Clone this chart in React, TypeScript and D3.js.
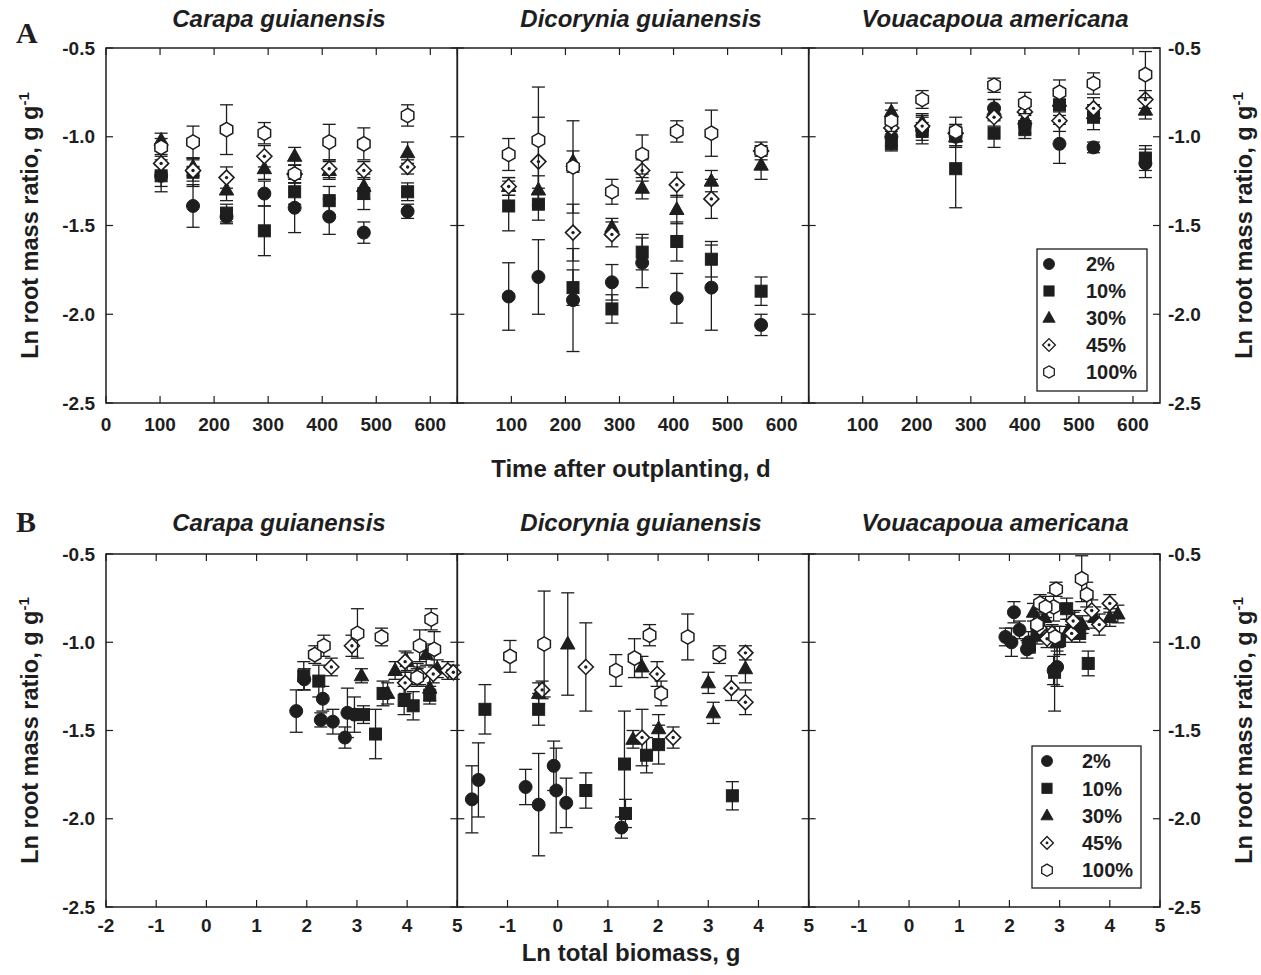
import React from 'react';
import * as d3 from 'd3';

// ---------- data ----------
const species = ['Carapa guianensis', 'Dicorynia guianensis', 'Vouacapoua americana'];
const levels = ['2%', '10%', '30%', '45%', '100%'];
const yTicks = [-0.5, -1.0, -1.5, -2.0, -2.5];
const timeTicks = [0, 100, 200, 300, 400, 500, 600];
const biomassTicks = [-2, -1, 0, 1, 2, 3, 4, 5];

// Panel A: time (d) of each harvest per species
const timeCarapa = [102, 161, 223, 293, 349, 413, 477, 558];
const timeDicorynia = [95, 150, 214, 286, 342, 406, 470, 562];
const timeVouacapoua = [153, 210, 272, 343, 400, 464, 527, 623];

// Panel A: [ln root mass ratio, error] per light level
const carapaA2 = [[-1.22, 0.06], [-1.39, 0.12], [-1.45, 0.04], [-1.32, 0.07], [-1.40, 0.14], [-1.45, 0.10], [-1.54, 0.06], [-1.42, 0.04]];
const carapaA10 = [[-1.22, 0.09], [-1.20, 0.08], [-1.43, 0.05], [-1.53, 0.14], [-1.31, 0.07], [-1.36, 0.08], [-1.32, 0.09], [-1.31, 0.05]];
const carapaA30 = [[-1.02, 0.04], [-1.17, 0.05], [-1.30, 0.06], [-1.18, 0.06], [-1.11, 0.05], [-1.19, 0.05], [-1.28, 0.07], [-1.09, 0.06]];
const carapaA45 = [[-1.15, 0.05], [-1.19, 0.06], [-1.23, 0.06], [-1.11, 0.06], [-1.21, 0.05], [-1.18, 0.05], [-1.19, 0.05], [-1.17, 0.04]];
const carapaA100 = [[-1.06, 0.05], [-1.03, 0.09], [-0.96, 0.14], [-0.98, 0.06], [-1.21, 0.05], [-1.03, 0.10], [-1.04, 0.09], [-0.88, 0.06]];

const dicoA2 = [[-1.90, 0.19], [-1.79, 0.21], [-1.92, 0.29], [-1.82, 0.10], [-1.71, 0.14], [-1.91, 0.14], [-1.85, 0.24], [-2.06, 0.06]];
const dicoA10 = [[-1.39, 0.14], [-1.38, 0.09], [-1.85, 0.10], [-1.97, 0.08], [-1.65, 0.10], [-1.59, 0.11], [-1.69, 0.10], [-1.87, 0.08]];
const dicoA30 = [[-1.28, 0.05], [-1.30, 0.08], [-1.14, 0.06], [-1.51, 0.05], [-1.29, 0.06], [-1.41, 0.08], [-1.25, 0.06], [-1.16, 0.08]];
const dicoA45 = [[-1.28, 0.05], [-1.14, 0.25], [-1.54, 0.16], [-1.55, 0.07], [-1.19, 0.06], [-1.27, 0.07], [-1.35, 0.11], [-1.08, 0.03]];
const dicoA100 = [[-1.10, 0.09], [-1.02, 0.30], [-1.17, 0.26], [-1.31, 0.07], [-1.10, 0.11], [-0.97, 0.06], [-0.98, 0.13], [-1.08, 0.05]];

const vouaA2 = [[-1.00, 0.05], [-0.96, 0.08], [-1.00, 0.06], [-0.84, 0.05], [-0.93, 0.05], [-1.04, 0.11], [-1.06, 0.03], [-1.15, 0.08]];
const vouaA10 = [[-1.04, 0.04], [-0.97, 0.05], [-1.18, 0.22], [-0.98, 0.08], [-0.96, 0.05], [-0.82, 0.06], [-0.89, 0.07], [-1.12, 0.07]];
const vouaA30 = [[-0.86, 0.05], [-0.92, 0.05], [-1.00, 0.05], [-0.85, 0.06], [-0.90, 0.05], [-0.80, 0.06], [-0.87, 0.05], [-0.85, 0.05]];
const vouaA45 = [[-0.95, 0.05], [-0.94, 0.05], [-0.98, 0.05], [-0.89, 0.05], [-0.86, 0.05], [-0.91, 0.06], [-0.84, 0.06], [-0.79, 0.05]];
const vouaA100 = [[-0.91, 0.06], [-0.79, 0.05], [-0.97, 0.08], [-0.71, 0.04], [-0.81, 0.06], [-0.75, 0.07], [-0.70, 0.06], [-0.65, 0.13]];

// Panel B: [ln total biomass, ln root mass ratio, error]
const carapaB2 = [[1.79, -1.39, 0.12], [2.28, -1.44, 0.04], [2.32, -1.32, 0.07], [2.52, -1.45, 0.07], [2.76, -1.54, 0.06], [2.81, -1.40, 0.14], [2.95, -1.41, 0.10], [1.95, -1.21, 0.06]];
const carapaB10 = [[1.94, -1.19, 0.08], [2.24, -1.22, 0.09], [3.13, -1.41, 0.05], [3.37, -1.52, 0.14], [3.52, -1.29, 0.07], [3.94, -1.33, 0.08], [4.12, -1.36, 0.08], [4.45, -1.30, 0.05]];
const carapaB30 = [[3.09, -1.19, 0.04], [3.61, -1.29, 0.06], [3.76, -1.16, 0.05], [4.00, -1.11, 0.05], [4.20, -1.18, 0.06], [4.38, -1.07, 0.06], [4.45, -1.26, 0.07], [4.60, -1.15, 0.05]];
const carapaB45 = [[2.49, -1.14, 0.05], [2.90, -1.02, 0.06], [3.96, -1.11, 0.06], [3.96, -1.23, 0.06], [4.25, -1.19, 0.05], [4.52, -1.18, 0.05], [4.81, -1.16, 0.05], [4.92, -1.17, 0.04]];
const carapaB100 = [[2.16, -1.07, 0.05], [2.34, -1.02, 0.06], [3.01, -0.95, 0.14], [3.49, -0.97, 0.05], [4.20, -1.20, 0.05], [4.25, -1.02, 0.09], [4.48, -0.87, 0.06], [4.54, -1.04, 0.10]];

const dicoB2 = [[-1.71, -1.89, 0.19], [-1.58, -1.78, 0.21], [-0.64, -1.82, 0.10], [-0.38, -1.92, 0.29], [-0.08, -1.70, 0.14], [-0.03, -1.84, 0.24], [0.17, -1.91, 0.14], [1.27, -2.05, 0.06]];
const dicoB10 = [[-1.45, -1.38, 0.14], [-0.38, -1.38, 0.09], [0.56, -1.84, 0.10], [1.33, -1.69, 0.30], [1.35, -1.97, 0.08], [1.77, -1.64, 0.10], [2.01, -1.58, 0.11], [3.48, -1.87, 0.08]];
const dicoB30 = [[-0.38, -1.29, 0.06], [0.20, -1.01, 0.29], [1.50, -1.55, 0.05], [1.68, -1.14, 0.06], [2.01, -1.49, 0.08], [3.00, -1.23, 0.06], [3.10, -1.40, 0.06], [3.74, -1.15, 0.08]];
const dicoB45 = [[-0.31, -1.27, 0.05], [0.56, -1.14, 0.25], [1.68, -1.54, 0.16], [1.98, -1.18, 0.07], [2.30, -1.54, 0.06], [3.46, -1.26, 0.07], [3.74, -1.06, 0.04], [3.74, -1.34, 0.07]];
const dicoB100 = [[-0.95, -1.08, 0.09], [-0.27, -1.01, 0.30], [1.16, -1.16, 0.09], [1.53, -1.09, 0.11], [1.83, -0.96, 0.06], [2.06, -1.29, 0.07], [2.59, -0.97, 0.13], [3.22, -1.07, 0.05]];

const vouaB2 = [[1.92, -0.97, 0.05], [2.09, -0.83, 0.06], [2.04, -1.00, 0.08], [2.20, -0.93, 0.05], [2.35, -1.04, 0.05], [2.38, -1.00, 0.06], [2.88, -1.16, 0.08], [2.95, -1.14, 0.11]];
const vouaB10 = [[2.40, -1.02, 0.04], [2.55, -0.96, 0.05], [2.90, -1.17, 0.22], [3.00, -0.99, 0.08], [3.14, -0.81, 0.06], [3.30, -0.89, 0.07], [3.40, -0.95, 0.05], [3.57, -1.12, 0.07]];
const vouaB30 = [[2.48, -0.83, 0.05], [2.70, -0.86, 0.05], [2.95, -1.00, 0.05], [3.20, -0.92, 0.05], [3.45, -0.90, 0.05], [3.70, -0.86, 0.06], [4.00, -0.86, 0.05], [4.16, -0.84, 0.05]];
const vouaB45 = [[2.60, -0.92, 0.05], [2.85, -0.95, 0.05], [3.24, -0.95, 0.05], [3.27, -0.88, 0.05], [3.64, -0.82, 0.06], [3.79, -0.90, 0.06], [4.00, -0.78, 0.05], [2.75, -0.98, 0.05]];
const vouaB100 = [[2.55, -0.90, 0.06], [2.61, -0.78, 0.05], [2.88, -0.80, 0.08], [2.91, -0.97, 0.06], [2.93, -0.70, 0.04], [3.44, -0.64, 0.13], [3.54, -0.73, 0.07], [2.72, -0.80, 0.06]];

// ---------- build tables ----------
type Pt = { x: number; y: number; e: number };
const fromA = (t: number[], a: number[][]): Pt[] => a.map((d, i) => ({ x: t[i], y: d[0], e: d[1] }));
const fromB = (a: number[][]): Pt[] => a.map((d) => ({ x: d[0], y: d[1], e: d[2] }));

const panelAData: Pt[][][] = [
  [carapaA2, carapaA10, carapaA30, carapaA45, carapaA100].map((s) => fromA(timeCarapa, s)),
  [dicoA2, dicoA10, dicoA30, dicoA45, dicoA100].map((s) => fromA(timeDicorynia, s)),
  [vouaA2, vouaA10, vouaA30, vouaA45, vouaA100].map((s) => fromA(timeVouacapoua, s)),
];
const panelBData: Pt[][][] = [
  [carapaB2, carapaB10, carapaB30, carapaB45, carapaB100].map(fromB),
  [dicoB2, dicoB10, dicoB30, dicoB45, dicoB100].map(fromB),
  [vouaB2, vouaB10, vouaB30, vouaB45, vouaB100].map(fromB),
];

// ---------- layout ----------
const W = 1261;
const H = 975;
const X0 = 106;
const X1 = 1160;
const SUBW = (X1 - X0) / 3;
const SANS = '"Liberation Sans", Arial, Helvetica, sans-serif';
const INK = '#1e1e1e';

function Marker({ k, x, y, s = 1 }: { k: number; x: number; y: number; s?: number }) {
  const t = `translate(${x},${y}) scale(${s})`;
  if (k === 0) return <circle transform={t} r={6.5} fill={INK} stroke={INK} strokeWidth={1} />;
  if (k === 1) return <rect transform={t} x={-6} y={-6} width={12} height={12} fill={INK} stroke={INK} strokeWidth={1} />;
  if (k === 2) return <path transform={t} d="M0,-7.8L7.2,5L-7.2,5Z" fill={INK} stroke={INK} strokeWidth={1} strokeLinejoin="round" />;
  if (k === 3)
    return (
      <g transform={t}>
        <path d="M0,-7.5L7.5,0L0,7.5L-7.5,0Z" fill="#fff" stroke={INK} strokeWidth={1.6} />
        <circle r={1.7} fill={INK} />
      </g>
    );
  const hex = d3.range(6).map((i) => {
    const a = (Math.PI / 3) * i - Math.PI / 2;
    return [7.2 * Math.cos(a), 7.2 * Math.sin(a)];
  });
  return <path transform={t} d={'M' + hex.map((p) => p.join(',')).join('L') + 'Z'} fill="#fff" stroke={INK} strokeWidth={1.5} />;
}

function Panel({
  top,
  bottom,
  domain,
  ticks,
  data,
  tickLabelY,
  titleY,
  xLabel,
  xLabelY,
  letter,
  letterY,
  legendBox,
}: {
  top: number;
  bottom: number;
  domain: [number, number];
  ticks: number[];
  data: Pt[][][];
  tickLabelY: number;
  titleY: number;
  xLabel: string;
  xLabelY: number;
  letter: string;
  letterY: number;
  legendBox: { x: number; y: number; w: number; h: number; sx: number; tx: number; y0: number; dy: number };
}) {
  const y = d3.scaleLinear().domain([-0.5, -2.5]).range([top, bottom]);
  const titleCx = [279, 641, 995];
  const tl = 7;
  return (
    <g>
      <text x={16} y={letterY} fontFamily='"Liberation Serif", "Times New Roman", serif' fontWeight="bold" fontSize={30} fill={INK}>
        {letter}
      </text>
      {species.map((sp, i) => (
        <text key={sp} x={titleCx[i]} y={titleY} textAnchor="middle" fontFamily={SANS} fontWeight="bold" fontStyle="italic" fontSize={24} fill={INK}>
          {sp}
        </text>
      ))}
      {data.map((series, i) => {
        const left = X0 + SUBW * i;
        const x = d3.scaleLinear().domain(domain).range([left, left + SUBW]);
        return (
          <g key={i}>
            {ticks.map((t) => (
              <g key={'xt' + t}>
                <line x1={x(t)} x2={x(t)} y1={top} y2={top + tl} stroke={INK} strokeWidth={1.2} />
                <line x1={x(t)} x2={x(t)} y1={bottom} y2={bottom - tl} stroke={INK} strokeWidth={1.2} />
                {(i === 0 || t !== domain[0]) && (
                  <text x={x(t)} y={tickLabelY} textAnchor="middle" fontFamily={SANS} fontWeight="bold" fontSize={19} fill={INK}>
                    {t}
                  </text>
                )}
              </g>
            ))}
            {yTicks.map((v) => (
              <g key={'yt' + v}>
                <line x1={left} x2={left + tl} y1={y(v)} y2={y(v)} stroke={INK} strokeWidth={1.2} />
                <line x1={left + SUBW} x2={left + SUBW - tl} y1={y(v)} y2={y(v)} stroke={INK} strokeWidth={1.2} />
              </g>
            ))}
            {series.map((pts, k) => (
              <g key={'s' + k}>
                {pts.map((p, j) => (
                  <g key={j}>
                    <line x1={x(p.x)} x2={x(p.x)} y1={y(p.y + p.e)} y2={y(p.y - p.e)} stroke={INK} strokeWidth={1.3} />
                    <line x1={x(p.x) - 6.5} x2={x(p.x) + 6.5} y1={y(p.y + p.e)} y2={y(p.y + p.e)} stroke={INK} strokeWidth={1.3} />
                    <line x1={x(p.x) - 6.5} x2={x(p.x) + 6.5} y1={y(p.y - p.e)} y2={y(p.y - p.e)} stroke={INK} strokeWidth={1.3} />
                  </g>
                ))}
                {pts.map((p, j) => (
                  <Marker key={'m' + j} k={k} x={x(p.x)} y={y(p.y)} />
                ))}
              </g>
            ))}
            <rect x={left} y={top} width={SUBW} height={bottom - top} fill="none" stroke={INK} strokeWidth={1.5} />
          </g>
        );
      })}
      {yTicks.map((v) => (
        <g key={'yl' + v}>
          <text x={95} y={y(v)} dy="0.35em" textAnchor="end" fontFamily={SANS} fontWeight="bold" fontSize={19} fill={INK}>
            {v.toFixed(1)}
          </text>
          <text x={1168} y={y(v)} dy="0.35em" textAnchor="start" fontFamily={SANS} fontWeight="bold" fontSize={19} fill={INK}>
            {v.toFixed(1)}
          </text>
        </g>
      ))}
      {[38, 1252].map((lx) => (
        <text key={lx} transform={`translate(${lx},${(top + bottom) / 2}) rotate(-90)`} textAnchor="middle" fontFamily={SANS} fontWeight="bold" fontSize={23.5} fill={INK}>
          Ln root mass ratio, g g<tspan dy={-9} fontSize={15}>-1</tspan>
        </text>
      ))}
      <text x={631} y={xLabelY} textAnchor="middle" fontFamily={SANS} fontWeight="bold" fontSize={24} fill={INK}>
        {xLabel}
      </text>
      <g>
        <rect x={legendBox.x} y={legendBox.y} width={legendBox.w} height={legendBox.h} fill="#fff" stroke={INK} strokeWidth={1.3} />
        {levels.map((lv, k) => (
          <g key={lv}>
            <Marker k={k} x={legendBox.sx} y={legendBox.y0 + k * legendBox.dy} s={0.85} />
            <text x={legendBox.tx} y={legendBox.y0 + k * legendBox.dy} dy="0.36em" fontFamily={SANS} fontWeight="bold" fontSize={20} fill={INK}>
              {lv}
            </text>
          </g>
        ))}
      </g>
    </g>
  );
}

export default function App() {
  return (
    <svg width={W} height={H} style={{ position: 'absolute', left: 0, top: 0, background: '#fff' }}>
      <rect width={W} height={H} fill="#fff" />
      <Panel
        top={48}
        bottom={403}
        domain={[0, 650]}
        ticks={timeTicks}
        data={panelAData}
        tickLabelY={431}
        titleY={27}
        xLabel="Time after outplanting, d"
        xLabelY={477}
        letter="A"
        letterY={43}
        legendBox={{ x: 1037, y: 249, w: 110, h: 142, sx: 1049, tx: 1086, y0: 264, dy: 27 }}
      />
      <Panel
        top={554}
        bottom={907}
        domain={[-2, 5]}
        ticks={biomassTicks}
        data={panelBData}
        tickLabelY={932}
        titleY={531}
        xLabel="Ln total biomass, g"
        xLabelY={961}
        letter="B"
        letterY={532}
        legendBox={{ x: 1032, y: 746, w: 109, h: 142, sx: 1047, tx: 1082, y0: 761, dy: 27.3 }}
      />
    </svg>
  );
}
